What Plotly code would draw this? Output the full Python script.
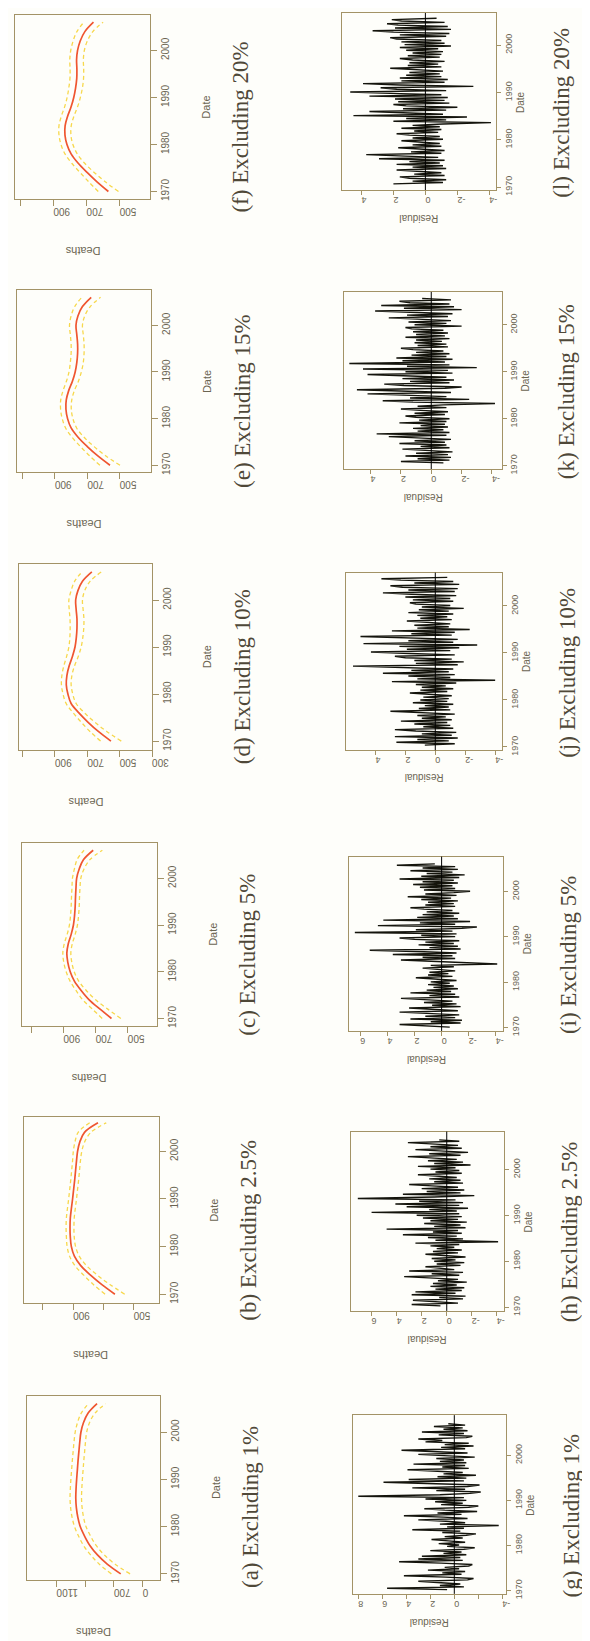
import numpy as np
import plotly.graph_objects as go

W, H = 590, 1641

# ---------------- data ----------------
fit_dates = [1970, 1972, 1974, 1976, 1978, 1980, 1982, 1984, 1986, 1988,
             1990, 1992, 1994, 1996, 1998, 2000, 2002, 2004, 2006]

fit_a = [653, 745, 815, 868, 905, 935, 952, 962, 966, 964, 960, 955, 950, 944, 938, 930, 912, 880, 818]
band_a = [65, 55, 48, 44, 42, 40, 40, 40, 40, 40, 40, 40, 40, 40, 40, 40, 42, 48, 60]
fit_b = [624, 710, 785, 850, 892, 912, 919, 921, 919, 912, 904, 897, 890, 884, 878, 871, 856, 825, 736]
band_b = [65, 55, 45, 38, 32, 28, 26, 26, 26, 26, 26, 26, 26, 26, 26, 28, 32, 42, 55]
fit_c = [601, 672, 740, 790, 832, 858, 873, 879, 870, 852, 838, 831, 827, 825, 822, 818, 802, 775, 715]
band_c = [58, 48, 40, 32, 27, 25, 25, 25, 25, 25, 25, 25, 25, 25, 25, 26, 30, 40, 57]
fit_d = [554, 630, 695, 752, 800, 820, 830, 826, 812, 792, 776, 768, 764, 764, 769, 772, 758, 730, 672]
band_d = [64, 52, 42, 35, 31, 30, 30, 31, 33, 36, 38, 40, 42, 43, 43, 42, 42, 48, 60]
fit_e = [560, 635, 700, 757, 800, 822, 832, 830, 815, 792, 775, 765, 760, 760, 765, 770, 758, 730, 676]
band_e = [62, 50, 42, 37, 34, 33, 33, 34, 35, 37, 38, 40, 40, 40, 40, 40, 42, 48, 58]
fit_f = [568, 635, 695, 750, 793, 818, 830, 829, 814, 793, 777, 766, 759, 758, 760, 754, 738, 710, 658]
band_f = [61, 50, 43, 39, 37, 36, 36, 37, 38, 39, 40, 41, 41, 41, 41, 41, 43, 48, 58]

res_g = [0.6, 5.6, -0.8, 1.2, -0.5, 0.9, 3.0, -1.1, -1.6, 0.7,
         4.2, -0.6, 1.0, -0.9, 2.2, -0.4, 0.8, -1.2, -1.5, 1.1,
         4.6, -0.7, 3.0, -0.5, 2.7, -1.0, 0.9, -0.6, 2.0, -0.8,
         -1.7, 0.6, -0.4, 1.3, -0.9, 0.5, 1.9, -0.7, 0.8, -1.0,
         -1.8, 1.0, -0.5, 3.5, -0.8, 0.6, -3.7, 1.2, -0.9, 0.7,
         3.0, -1.1, 0.9, 4.2, -0.6, 1.4, -1.9, 0.8, 2.5, -1.2,
         -2.0, 1.1, -0.7, 1.6, -1.0, 2.4, -0.8, 8.0, 1.2, -1.3,
         -2.2, 1.5, -0.9, 3.5, -1.1, -2.1, 1.3, 5.9, -0.8, 3.8,
         -1.0, 1.4, -1.8, 0.9, -0.7, 1.6, 3.9, -1.2, 1.0, -0.9,
         3.4, -1.0, 1.2, -0.8, 1.5, -1.7, 0.9, 3.0, -1.1, 1.3,
         4.4, -0.9, 1.1, -1.6, 0.8, -1.2, 2.4, 1.0, 3.0, -1.0,
         -1.5, 1.3, -0.8, 2.7, -1.1, 0.9, -0.7, 1.7, -0.9, 0.5]
res_h = [0.5, 2.8, -0.9, 1.0, 2.7, -1.3, 0.6, -1.5, 2.8, -0.7,
         2.5, -1.2, 0.9, -1.4, 1.3, -0.8, 1.1, -1.6, 0.7, -0.9,
         1.4, 3.4, -1.0, 1.2, -1.3, 3.0, -0.6, 0.9, 1.7, -1.1,
         0.8, -1.4, 1.0, -0.7, 1.2, -1.5, 0.6, 1.7, -0.9, 1.1,
         -1.2, 0.8, -0.6, 1.3, -1.0, 2.5, -4.1, 0.9, -1.3, 1.5,
         -0.8, 3.5, -1.2, 1.1, -0.9, 4.8, -1.5, 1.0, -1.1, 1.8,
         -1.6, 1.3, -0.9, 1.9, -1.2, 2.4, -1.0, 6.0, -0.8, 1.4,
         -1.7, 3.2, -1.0, 4.1, -1.3, 2.2, -0.7, 7.1, 1.0, -2.2,
         3.5, -1.1, 1.6, -1.4, 2.0, -0.9, 1.2, 3.0, -1.3, 1.0,
         -1.1, 1.4, -0.8, 1.1, 2.3, -1.2, 0.9, -1.0, 1.3, -0.7,
         2.3, -1.9, 1.0, -1.3, 1.5, -0.8, 1.2, 3.1, -1.1, 1.4,
         -1.7, 1.0, 2.5, -1.2, 1.3, -0.9, 1.1, 3.1, -1.0, 0.6]
res_i = [-0.6, 1.0, 3.1, -1.4, 0.8, -1.5, 2.3, -1.0, 1.2, -1.3,
         0.9, 3.1, -1.2, 1.0, 2.4, -1.4, 0.7, -1.1, 1.3, -0.8,
         1.5, 3.0, -1.3, 0.9, -1.0, 2.3, -0.7, 1.1, -1.2, 0.6,
         -0.9, 1.0, -0.6, 0.8, -1.1, 0.7, 1.9, -0.8, 1.0, -0.5,
         0.9, -1.0, 0.6, 1.4, -0.9, 0.8, -4.1, -1.2, 1.1, 3.0,
         -1.0, 1.4, -0.8, 3.6, -1.1, 1.3, 5.3, -1.4, 0.9, -1.2,
         1.7, -0.9, 1.2, -1.3, 2.0, 3.1, -1.0, 1.5, -1.1, 6.4,
         -0.8, 1.9, -1.5, -2.6, 4.7, -1.0, 1.6, -2.1, 4.3, -1.2,
         1.8, -0.9, 1.4, -1.3, 1.1, -0.8, 1.3, 2.3, -1.0, 1.2,
         -0.9, 1.0, -1.2, 1.5, -0.7, 2.5, -1.1, 1.2, -0.9, -2.1,
         1.3, -1.0, 1.6, -0.8, 2.1, -1.2, 1.4, -0.9, 3.1, -1.3,
         1.5, -1.7, 1.1, -0.8, 2.3, -1.2, 1.4, -1.0, 3.3, 0.5]
res_j = [0.7, -1.3, 2.6, -0.9, 1.2, -1.5, 2.7, -1.1, 0.9, -1.4,
         1.3, 2.7, -1.2, 0.8, -1.0, 1.4, -0.8, 2.3, -1.1, 0.9,
         -0.7, 1.2, -1.3, 0.8, 3.0, -1.0, 1.1, -0.9, 0.7, -1.2,
         1.5, -0.8, 1.0, -0.9, 0.8, -1.1, 0.6, 1.7, -0.8, 1.0,
         -1.2, 0.9, -0.7, 1.3, -1.4, 2.9, -4.0, 1.2, -1.0, 1.8,
         -1.3, 3.5, -0.9, 1.6, -1.2, 2.2, 5.5, -1.5, 1.3, -1.9,
         1.4, -1.1, 2.0, 2.7, -1.3, 1.7, 4.3, -1.0, 1.9, -1.6,
         2.4, -2.8, 4.8, -1.2, 1.8, -1.5, 2.1, 5.0, -1.1, 1.6,
         -1.3, 2.9, -2.3, 1.2, -0.9, 1.4, -1.0, 0.8, 1.9, -1.1,
         1.0, -0.8, 1.2, -1.2, 1.8, -0.9, 1.1, -1.9, 0.9, -1.0,
         1.3, 1.7, -1.2, 1.5, -1.0, 2.0, -1.4, 1.6, 3.5, -1.3,
         1.8, -1.5, 2.2, 3.0, -1.6, 1.4, -1.2, 2.3, 3.6, -0.8]
res_k = [-0.8, 2.0, -1.2, 0.9, -1.3, 1.7, -1.1, 1.0, -1.4, 0.8,
         1.9, -1.2, 0.7, -1.0, 2.1, -0.9, 1.1, -1.3, 0.8, 2.8,
         -1.0, 3.6, -1.2, 0.9, -0.8, 1.2, -1.1, 0.7, -0.9, 2.1,
         -1.0, 0.8, -1.2, 1.0, 1.7, -0.9, 1.1, -1.1, 0.7, 2.0,
         -1.0, 0.9, -0.8, -4.2, 1.2, 3.2, -2.5, 1.4, -1.0, 1.6,
         4.2, -1.3, 1.5, 4.9, -0.9, -2.0, 1.8, 3.1, -1.2, 1.4,
         -1.5, 1.9, -1.0, 2.2, 4.2, -1.4, 1.7, -1.1, 4.5, -3.0,
         1.6, -1.2, 5.4, -0.9, 1.9, -1.4, 2.3, -1.0, 1.3, -1.2,
         1.0, -0.8, 1.2, 2.0, -1.1, 0.9, -1.0, 1.1, -0.7, 1.0,
         -1.2, 1.7, -0.9, 1.0, -1.1, 1.2, -0.8, 1.3, 1.7, -2.0,
         1.1, -1.0, 1.5, -1.3, 1.2, 2.8, -1.1, 1.6, -1.4, 2.0,
         3.7, -2.0, 1.8, -1.5, 3.3, -1.2, 1.4, 2.1, -1.3, 0.6]
res_l = [2.0, -1.1, 0.8, -1.3, 1.0, 1.6, -1.2, 0.7, -1.0, 0.9,
         1.8, -1.3, 0.8, -1.1, 1.8, -0.9, 1.0, -1.2, 2.9, -0.8,
         1.1, 3.7, -1.0, 0.9, -1.2, 0.7, 1.7, -1.0, 0.8, -0.9,
         0.6, 1.5, -1.1, 0.8, -0.9, 1.0, 1.8, -0.8, 0.7, -1.0,
         1.5, -0.9, 0.8, -1.1, -4.1, 2.0, -1.3, 1.2, -2.6, 4.5,
         -1.1, 1.6, 3.5, -1.3, 1.4, -2.0, 1.2, 2.0, -1.5, 1.7,
         -1.2, 1.9, -1.4, 3.5, -1.0, 2.2, 4.7, -1.3, 1.8, 2.8,
         -3.0, 1.6, 3.9, -1.2, 1.5, -1.4, 1.6, -1.0, 1.2, -0.9,
         1.0, -1.1, 0.9, 2.2, -1.0, 1.1, -0.8, 1.0, -1.2, 0.8,
         1.6, -0.9, 1.1, -1.0, 0.8, -1.1, 1.2, -0.8, 1.6, -1.6,
         1.3, -1.2, 1.5, -1.0, 1.8, 2.2, -1.3, 1.6, -1.5, 2.0,
         3.3, -1.6, 1.9, -1.4, 1.7, 2.4, -1.2, 1.5, 2.1, -0.7]

# first and last date of each residual series
res_span_g = [1970.2, 2007.0]
res_span_h = [1970.3, 2006.5]
res_span_i = [1970.1, 2006.1]
res_span_j = [1970.4, 2006.1]
res_span_k = [1970.6, 2005.6]
res_span_l = [1970.7, 2005.7]

date_ticks = [1970, 1980, 1990, 2000]
captions = ["(a) Excluding 1%", "(b) Excluding 2.5%", "(c) Excluding 5%",
            "(d) Excluding 10%", "(e) Excluding 15%", "(f) Excluding 20%",
            "(g) Excluding 1%", "(h) Excluding 2.5%", "(i) Excluding 5%",
            "(j) Excluding 10%", "(k) Excluding 15%", "(l) Excluding 20%"]

# ---------------- styling ----------------
BG = "#fefefa"
FRAME = "#a39366"
TICKTXT = "#6b6552"
CAPTXT = "#4f4838"
RED = "#ef5530"
YEL = "#f7d84c"
RESC = "#14140c"

fig = go.Figure()

death_panels = [
    dict(fit=fit_a, band=band_a, box=(19.3, 156.7, 1392.7, 1577.3), xr=(1307.5, 378.2), yr=(1968.8, 2007.7),
         tv=[1100, 900, 700, 500], tt=["1100", "", "700", "0"]),
    dict(fit=fit_b, band=band_b, box=(16, 155, 1112.7, 1300), xr=(1228.6, 335), yr=(1968.1, 2007.3),
         tv=[1100, 900, 700, 500], tt=["", "900", "", "500"]),
    dict(fit=fit_c, band=band_c, box=(14, 153.3, 838.3, 1021.7), xr=(1160.4, 318.8), yr=(1968.4, 2007.5),
         tv=[1100, 900, 700, 500], tt=["", "900", "700", "500"]),
    dict(fit=fit_d, band=band_d, box=(11.7, 148.3, 558.3, 744.3), xr=(1120, 300), yr=(1968.2, 2007.6),
         tv=[1100, 900, 700, 500, 300], tt=["", "900", "700", "500", "300"]),
    dict(fit=fit_e, band=band_e, box=(9.3, 147.7, 283.3, 466), xr=(1134, 304), yr=(1968.5, 2007.5),
         tv=[1100, 900, 700, 500, 300], tt=["", "900", "700", "500", "300"]),
    dict(fit=fit_f, band=band_f, box=(7.3, 146.7, 6.7, 191.7), xr=(1131, 314), yr=(1968.4, 2007.6),
         tv=[1100, 900, 700, 500], tt=["", "900", "700", "500"]),
]
res_panels = [
    dict(res=res_g, span=res_span_g, box=(355, 512.7, 1412.3, 1591.7), xr=(8.46, -4.3), yr=(1969.26, 2008.9),
         tv=[8, 6, 4, 2, 0, -2, -4], tt=["8", "6", "4", "2", "0", "", "-4"]),
    dict(res=res_h, span=res_span_h, box=(352.7, 510.7, 1127.7, 1307.7), xr=(7.68, -4.57), yr=(1969.2, 2008.3),
         tv=[6, 4, 2, 0, -2, -4], tt=["6", "4", "2", "0", "-2", "-4"]),
    dict(res=res_i, span=res_span_i, box=(350.7, 510, 851.7, 1026.7), xr=(6.86, -4.55), yr=(1969.27, 2007.7),
         tv=[6, 4, 2, 0, -2, -4], tt=["6", "4", "2", "0", "-2", "-4"]),
    dict(res=res_j, span=res_span_j, box=(348.3, 509, 566.7, 745), xr=(5.95, -4.48), yr=(1969.3, 2007.1),
         tv=[4, 2, 0, -2, -4], tt=["4", "2", "0", "-2", "-4"]),
    dict(res=res_k, span=res_span_k, box=(346, 508.3, 285, 462.7), xr=(5.75, -4.64), yr=(1969.3, 2007.0),
         tv=[4, 2, 0, -2, -4], tt=["4", "2", "0", "-2", "-4"]),
    dict(res=res_l, span=res_span_l, box=(344, 502.7, 5, 182.7), xr=(5.21, -4.43), yr=(1969.4, 2006.8),
         tv=[4, 2, 0, -2, -4], tt=["4", "2", "0", "-2", "-4"]),
]

annotations = []
shapes = []
layout_axes = {}


def axis_names(k):
    s = "" if k == 1 else str(k)
    return "x" + s, "y" + s, "xaxis" + s, "yaxis" + s


def setup_axes(k, p, tickfs, ticklen):
    xn, yn, xk, yk = axis_names(k)
    x0, x1, y0, y1 = p["box"]
    layout_axes[xk] = dict(
        domain=[x0 / W, x1 / W], anchor=yn, range=list(p["xr"]), side="bottom",
        showline=True, mirror=True, linecolor=FRAME, linewidth=1,
        ticks="outside", ticklen=ticklen, tickcolor=FRAME, tickwidth=1,
        tickvals=p["tv"], ticktext=p["tt"], tickangle=180,
        tickfont=dict(family="Liberation Sans", size=tickfs, color=TICKTXT),
        showgrid=False, zeroline=False, fixedrange=True)
    layout_axes[yk] = dict(
        domain=[1 - y1 / H, 1 - y0 / H], anchor=xn, range=list(p["yr"]), side="right",
        showline=True, mirror=True, linecolor=FRAME, linewidth=1,
        ticks="outside", ticklen=ticklen, tickcolor=FRAME, tickwidth=1,
        tickvals=date_ticks, tickangle=-90,
        tickfont=dict(family="Liberation Sans", size=tickfs, color=TICKTXT),
        showgrid=False, zeroline=False, fixedrange=True)
    return xn, yn


def add_text(text, px, py, angle, size, family, color):
    annotations.append(dict(text=text, x=px / W, y=1 - py / H, xref="paper", yref="paper",
                            showarrow=False, textangle=angle, xanchor="center", yanchor="middle",
                            font=dict(family=family, size=size, color=color)))


CAP_SIZE = 23
k = 0
for idx, p in enumerate(death_panels):
    k += 1
    xn, yn = setup_axes(k, p, 10, 6)
    fit = np.array(p["fit"], dtype=float)
    band = np.array(p["band"], dtype=float)
    for bnd in (fit + band, fit - band):
        fig.add_trace(go.Scatter(x=bnd, y=fit_dates, xaxis=xn, yaxis=yn, mode="lines",
                                 line=dict(color=YEL, width=1.3, dash="4px,3px", shape="spline"),
                                 hoverinfo="skip", showlegend=False))
    fig.add_trace(go.Scatter(x=fit, y=fit_dates, xaxis=xn, yaxis=yn, mode="lines",
                             line=dict(color=RED, width=1.7, shape="spline"),
                             showlegend=False))
    x0, x1, y0, y1 = p["box"]
    cy = (y0 + y1) / 2
    add_text("Deaths", (x0 + x1) / 2, y1 + 52, 180, 11, "Liberation Sans", TICKTXT)
    add_text("Date", x1 + 57, cy, -90, 11, "Liberation Sans", TICKTXT)
    add_text(captions[idx], x1 + 93, cy + 20, -90, CAP_SIZE, "Liberation Serif", CAPTXT)

for idx, p in enumerate(res_panels):
    k += 1
    xn, yn = setup_axes(k, p, 9, 4)
    dates = np.linspace(p["span"][0], p["span"][1], len(p["res"]))
    fig.add_trace(go.Scatter(x=p["res"], y=dates, xaxis=xn, yaxis=yn, mode="lines",
                             line=dict(color=RESC, width=1.4), showlegend=False))
    shapes.append(dict(type="line", xref=xn, yref=yn + " domain", x0=0, x1=0, y0=0, y1=1,
                       line=dict(color="#000000", width=1)))
    x0, x1, y0, y1 = p["box"]
    cy = (y0 + y1) / 2
    add_text("Residual", (x0 + x1) / 2, y1 + 28, 180, 10, "Liberation Sans", TICKTXT)
    add_text("Date", x1 + 25, cy, -90, 10, "Liberation Sans", TICKTXT)
    add_text(captions[6 + idx], x1 + 67, cy + 11, -90, CAP_SIZE, "Liberation Serif", CAPTXT)

fig.update_layout(width=W, height=H, margin=dict(l=0, r=0, t=0, b=0),
                  paper_bgcolor=BG, plot_bgcolor=BG, showlegend=False,
                  annotations=annotations, shapes=shapes, **layout_axes)

fig.write_html("out.html", include_plotlyjs=True, full_html=True,
               config=dict(displayModeBar=False, staticPlot=True))
